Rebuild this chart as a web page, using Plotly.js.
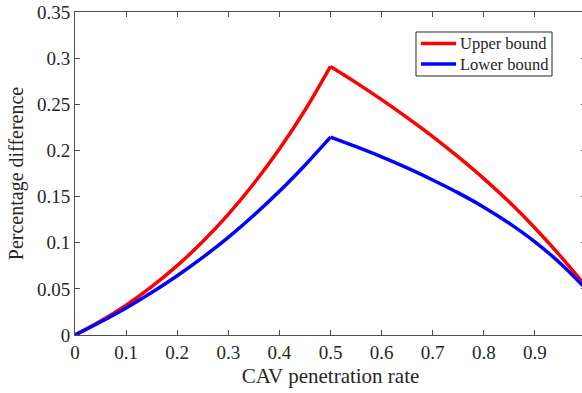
<!DOCTYPE html>
<html>
<head>
<meta charset="utf-8">
<script src="https://cdn.plot.ly/plotly-3.0.1.min.js"></script>
<style>
html,body{margin:0;padding:0;overflow:hidden;background:#fff;}
#chart{width:590px;height:393px;}
</style>
</head>
<body>
<div id="chart"></div>
<script>
// CAV penetration rate
var penetration = [0, 0.05, 0.1, 0.15, 0.2, 0.25, 0.3, 0.35, 0.4, 0.45, 0.5,
                   0.55, 0.6, 0.65, 0.7, 0.75, 0.8, 0.85, 0.9, 0.95, 1.0];
// Upper bound of percentage difference
var upperBound = [0, 0.0151, 0.0324, 0.0524, 0.0752, 0.1013, 0.1308, 0.1642, 0.2016, 0.2435, 0.291,
                  0.2735, 0.255, 0.2355, 0.215, 0.193, 0.1695, 0.144, 0.116, 0.0855, 0.0525];
// Lower bound of percentage difference
var lowerBound = [0, 0.0141, 0.0293, 0.0460, 0.0642, 0.0841, 0.1058, 0.1297, 0.1557, 0.1840, 0.2144,
                  0.2040, 0.1930, 0.1810, 0.1680, 0.1540, 0.1385, 0.1210, 0.1010, 0.0775, 0.050];
var seriesNames = ['Upper bound', 'Lower bound'];
var seriesColors = ['#ff0000', '#0000ff'];
var peakIndex = 10;
var xTicks = [0, 0.1, 0.2, 0.3, 0.4, 0.5, 0.6, 0.7, 0.8, 0.9, 1.0];
var xTickText = ['0', '0.1', '0.2', '0.3', '0.4', '0.5', '0.6', '0.7', '0.8', '0.9', ''];
var yTicks = [0, 0.05, 0.1, 0.15, 0.2, 0.25, 0.3, 0.35];
var yTickText = ['0', '0.05', '0.1', '0.15', '0.2', '0.25', '0.3', '0.35'];

var FONT = 'Liberation Serif, Times New Roman, serif';
var AX = '#4d4d4d';
var TXT = '#262626';
var LW = 3.5;

function seg(ys, color, name, part) {
  var xs = part === 0 ? penetration.slice(0, peakIndex + 1) : penetration.slice(peakIndex);
  var yy = part === 0 ? ys.slice(0, peakIndex + 1) : ys.slice(peakIndex);
  return {x: xs, y: yy, name: name, showlegend: false,
          mode: 'lines', line: {color: color, width: LW, shape: 'spline', smoothing: 1}};
}

var traces = [
  seg(upperBound, seriesColors[0], seriesNames[0], 0),
  seg(upperBound, seriesColors[0], seriesNames[0], 1),
  seg(lowerBound, seriesColors[1], seriesNames[1], 0),
  seg(lowerBound, seriesColors[1], seriesNames[1], 1)
];

// Legend box (paper coordinates)
var legBox = {x0: 0.6673, x1: 0.9335, y0: 0.8019, y1: 0.9381};
var legRowY = [0.9025, 0.839];
var legLineX = [0.6771, 0.7456];
var legTextX = 0.7495;

var shapes = [{type: 'rect', xref: 'paper', yref: 'paper',
  x0: legBox.x0, x1: legBox.x1, y0: legBox.y0, y1: legBox.y1,
  line: {color: TXT, width: 1}, fillcolor: '#ffffff', layer: 'above'}];
var annotations = [];
seriesNames.forEach(function (nm, i) {
  shapes.push({type: 'line', xref: 'paper', yref: 'paper',
    x0: legLineX[0], x1: legLineX[1], y0: legRowY[i], y1: legRowY[i],
    line: {color: seriesColors[i], width: LW}, layer: 'above'});
  annotations.push({xref: 'paper', yref: 'paper', x: legTextX, y: legRowY[i],
    xanchor: 'left', yanchor: 'middle', text: nm, showarrow: false,
    font: {family: FONT, size: 16.5, color: TXT}});
});

var axisBase = {
  showline: true, linecolor: AX, linewidth: 1, mirror: 'ticks',
  ticks: 'inside', ticklen: 5, tickcolor: AX, tickwidth: 1,
  showgrid: false, zeroline: false,
  tickfont: {family: FONT, size: 19, color: TXT}
};

var layout = {
  width: 590, height: 393,
  margin: {l: 75, r: 4, t: 12, b: 58},
  paper_bgcolor: '#ffffff', plot_bgcolor: '#ffffff',
  font: {family: FONT, color: TXT},
  showlegend: false,
  shapes: shapes,
  annotations: annotations,
  xaxis: Object.assign({}, axisBase, {
    range: [0, 1], tickmode: 'array', tickvals: xTicks, ticktext: xTickText,
    title: {text: 'CAV penetration rate', font: {family: FONT, size: 21, color: TXT}, standoff: 6}
  }),
  yaxis: Object.assign({}, axisBase, {
    range: [0, 0.35], tickmode: 'array', tickvals: yTicks, ticktext: yTickText,
    title: {text: 'Percentage difference', font: {family: FONT, size: 20, color: TXT}, standoff: 7}
  })
};

Plotly.newPlot('chart', traces, layout, {displayModeBar: false, staticPlot: true});
</script>
</body>
</html>
